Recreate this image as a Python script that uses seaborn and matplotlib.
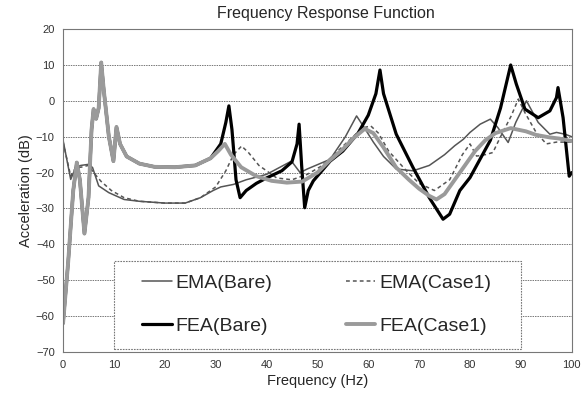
import numpy as np
import pandas as pd
import seaborn as sns
import matplotlib.pyplot as plt
from matplotlib.patches import Rectangle

# values (Hz, dB)
fea_bare_f = [0, 1, 2, 2.7, 3.3, 4.2, 5, 5.6, 6.0, 6.5, 7.0, 7.5, 8.0, 9.0, 9.9, 10.5, 11.2,
              12.5, 15, 18, 22, 26, 29, 31, 32, 32.6, 33.2, 34, 34.8, 36, 38, 40, 43, 45,
              46.0, 46.4, 46.9, 47.5, 48.2, 49.2, 52.5, 55, 58, 60, 61.5, 62.3, 63.0, 65.5,
              68.8, 72, 74.7, 76, 78, 80, 84, 86, 88, 89.1, 90.8, 93.4, 95.7, 97, 97.3, 98.3,
              99.5, 100]
fea_bare_db = [-62, -45, -25, -17.2, -22, -37, -27, -8, -2.3, -5, -2, 10.7, 3, -10, -16.8, -7.3,
               -12, -15.5, -17.5, -18.4, -18.5, -18, -16, -12, -6, -1.4, -8, -22, -27, -25,
               -23, -21.5, -19.5, -17, -12, -6.5, -18, -29.8, -25, -22.3, -16.8, -14, -9, -4,
               2, 8.6, 2, -9.3, -18.6, -27, -33, -31.6, -25, -21.4, -11, -2, 10, 4.7, -2.3,
               -4.7, -2.8, 0.9, 3.7, -4.7, -21, -20]

fea_case1_f = [0, 1, 2, 2.7, 3.3, 4.2, 5, 5.6, 6.0, 6.5, 7.0, 7.5, 8.0, 9.0, 9.9, 10.5, 11.2,
               12.5, 15, 18, 22, 26, 29, 30.5, 31.8, 33, 35, 38, 41, 44, 47, 50, 52.5, 55,
               57, 59.3, 61, 63, 65.5, 68, 70, 72, 73.4, 75, 77, 79, 81, 83, 85, 88, 91, 93,
               95.7, 97.5, 100]
fea_case1_db = [-62, -45, -25, -17.2, -22, -37, -27, -8, -2.3, -5, -2, 10.7, 3, -10, -16.8,
                -7.3, -12, -15.5, -17.5, -18.4, -18.5, -18, -16, -14, -12, -15, -18.5, -21,
                -22.3, -22.8, -22.5, -20, -16.5, -13.5, -10.5, -7.8, -9, -13, -18.6, -22,
                -24.5, -26.5, -27.5, -26, -22, -18, -14, -11, -9, -7.6, -8.5, -9.5, -10.2,
                -10.5, -11.2]

ema_bare_f = [0, 1.5, 2.5, 3.5, 5, 5.8, 7, 9, 12, 15, 20, 24, 27, 29.5, 31, 33.5, 36, 40,
              44.9, 46.6, 48, 52.5, 55.5, 57.7, 59, 61, 63, 65.5, 68.8, 72, 75, 77, 78.7, 80,
              82, 84, 85.5, 87.5, 89, 91.1, 93.4, 95.7, 97, 98.7, 100]
ema_bare_db = [-11, -21.9, -18.5, -18, -17.7, -18.6, -23.7, -25.6, -27.5, -28, -28.5, -28.5,
               -27, -25, -24, -23.3, -22, -20.5, -16.8, -20, -19, -16.3, -10, -4.2, -7, -11.5,
               -15.5, -19, -19.5, -18, -15, -12.5, -10.7, -8.8, -6.5, -5.1, -7.5, -11.6, -6,
               0, -6, -9.3, -8.8, -9.3, -10]

ema_case1_f = [0, 1.5, 2.5, 3.5, 5, 6, 7.5, 9.5, 12, 15, 20, 24, 27, 30, 32, 33.5, 35.1, 36.5,
               38.5, 42, 45, 48, 51, 54, 57, 59, 60.5, 62, 64, 67.5, 70, 73, 76, 78.5, 80,
               81.3, 83, 84.5, 86, 88.1, 89.5, 90.8, 93, 95, 97, 100]
ema_case1_db = [-11.5, -21, -18.5, -18.5, -18, -20, -22.5, -25, -27, -28, -28.5, -28.5, -27,
                -24, -19.5, -15, -12.6, -14.5, -18, -21.5, -22, -20.5, -18, -14, -10, -7.5,
                -7, -9, -14, -19.5, -23, -25, -22, -15, -12, -15.4, -15, -14.4, -10, -4.2,
                0.5, -3.3, -8.8, -12, -11.5, -11.5]

x_ticks = list(range(0, 101, 10))
y_ticks = list(range(-70, 21, 10))

sns.set_style("white")
plt.rcParams['font.family'] = ['Liberation Sans', 'DejaVu Sans']

fig = plt.figure(figsize=(5.84, 3.99), dpi=100)
ax = fig.add_axes([0.108, 0.118, 0.871, 0.809])

sns.lineplot(x=ema_bare_f, y=ema_bare_db, ax=ax, color="#555555", lw=1.1,
             label="EMA(Bare)", sort=False)
sns.lineplot(x=ema_case1_f, y=ema_case1_db, ax=ax, color="#555555", lw=1.1,
             linestyle=(0, (2.5, 2)), label="EMA(Case1)", sort=False)
sns.lineplot(x=fea_bare_f, y=fea_bare_db, ax=ax, color="black", lw=2.3,
             label="FEA(Bare)", sort=False)
sns.lineplot(x=fea_case1_f, y=fea_case1_db, ax=ax, color="#9a9a9a", lw=2.8,
             label="FEA(Case1)", sort=False)

ax.set_xlim(0, 100)
ax.set_ylim(-70, 20)
ax.set_xticks(x_ticks)
ax.set_yticks(y_ticks)
ax.set_yticklabels([str(v).replace("-", "\u2212") for v in y_ticks])
ax.tick_params(labelsize=8, colors="#333333", length=0, pad=6)
ax.yaxis.grid(True, color="#777777", lw=0.7, linestyle=(0, (1.5, 1)))
ax.xaxis.grid(False)
for s in ax.spines.values():
    s.set_color("#777777")
    s.set_linewidth(0.8)
    s.set_linestyle((0, (1.5, 1)))

ax.set_title("Frequency Response Function", fontsize=11.5, pad=8, x=0.517)
ax.set_xlabel("Frequency (Hz)", fontsize=10.5, labelpad=3)
ax.set_ylabel("Acceleration (dB)", fontsize=10.5, labelpad=2)

# legend box drawn separately (white, dotted grey border)
box = Rectangle((10, -69.3), 80, 24.6, facecolor="white", edgecolor="#777777",
                lw=0.8, linestyle=(0, (1.5, 1)), zorder=4)
ax.add_patch(box)

handles, labels = ax.get_legend_handles_labels()
order = [0, 2, 1, 3]
leg = ax.legend([handles[i] for i in order], [labels[i] for i in order], ncol=2,
                loc="center", bbox_to_anchor=(0.499, 0.146), fontsize=14,
                handlelength=1.5, handletextpad=0.2, labelspacing=1.3,
                columnspacing=3.8, borderpad=0.3, frameon=False)
leg.set_zorder(5)

fig.savefig("out.png", dpi=100)
